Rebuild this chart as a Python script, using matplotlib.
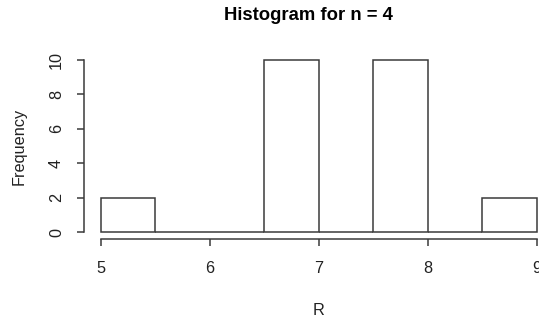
import numpy as np
import matplotlib.pyplot as plt

plt.rcParams['font.family'] = ['Liberation Sans', 'DejaVu Sans']

# histogram bins and counts
bin_edges = [5.0, 5.5, 6.0, 6.5, 7.0, 7.5, 8.0, 8.5, 9.0]
counts = [2, 0, 0, 10, 0, 10, 0, 2]
x_ticks = [5, 6, 7, 8, 9]
y_ticks = [0, 2, 4, 6, 8, 10]

ink = '#222222'
line_col = '#3a3a3a'

fig = plt.figure(figsize=(5.39, 3.22), dpi=100)
ax = fig.add_axes([0.155, 0.258, 0.873, 0.577])

edges = np.array(bin_edges)
ax.bar(edges[:-1], counts, width=np.diff(edges), align='edge',
       facecolor='white', edgecolor=line_col, linewidth=1.1)

# R style: 4% padding, detached axes
ax.set_xlim(4.84, 9.16)
ax.set_ylim(-0.4, 10.4)
for s in ['top', 'right']:
    ax.spines[s].set_visible(False)
ax.spines['left'].set_bounds(0, 10)
ax.spines['bottom'].set_bounds(5, 9)
for s in ['left', 'bottom']:
    ax.spines[s].set_color(line_col)
    ax.spines[s].set_linewidth(1.1)

ax.set_xticks(x_ticks)
ax.set_yticks(y_ticks)
ax.tick_params(colors=line_col, labelcolor=ink, length=5, width=1.1,
               labelsize=11.7)
ax.tick_params(axis='x', pad=11)
ax.tick_params(axis='y', pad=9)
for lbl in ax.get_yticklabels():
    lbl.set_rotation(90)
    lbl.set_va('center')

ax.set_xlabel('R', fontsize=11.7, color=ink, labelpad=19)
ax.set_ylabel('Frequency', fontsize=11.7, color=ink, labelpad=16)
fig.text(0.572, 0.953, 'Histogram for n = 4', fontsize=13.3,
         fontweight='bold', ha='center', va='center', color='black')

fig.savefig('out.png', dpi=100)
